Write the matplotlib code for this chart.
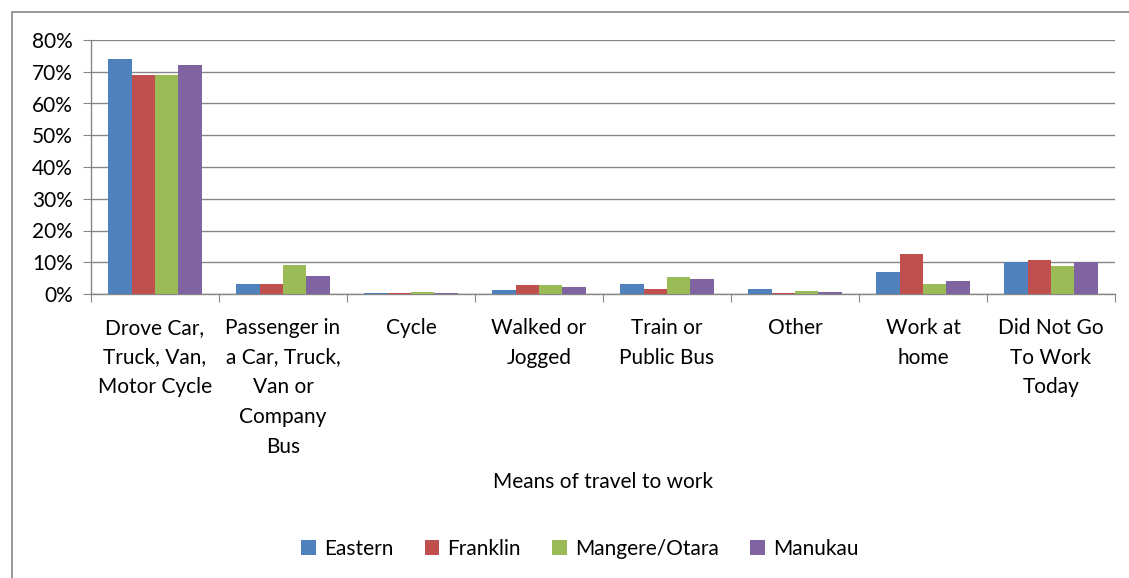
import numpy as np
import matplotlib
matplotlib.use("Agg")
import matplotlib.pyplot as plt
from matplotlib.patches import Rectangle
from matplotlib.ticker import FuncFormatter

plt.rcParams['font.family'] = ['Lato', 'DejaVu Sans']

categories = ["Drove Car,\nTruck, Van,\nMotor Cycle",
              "Passenger in\na Car, Truck,\nVan or\nCompany\nBus",
              "Cycle", "Walked or\nJogged", "Train or\nPublic Bus",
              "Other", "Work at\nhome", "Did Not Go\nTo Work\nToday"]
series = ["Eastern", "Franklin", "Mangere/Otara", "Manukau"]
eastern = [74.0, 3.0, 0.3, 1.4, 3.0, 1.5, 6.8, 10.0]
franklin = [69.0, 3.0, 0.3, 2.7, 1.5, 0.4, 12.5, 10.6]
mangere = [69.0, 9.0, 0.7, 2.7, 5.3, 1.1, 3.3, 8.7]
manukau = [72.0, 5.7, 0.4, 2.3, 4.8, 0.75, 4.2, 10.0]
colors = ["#4F81BD", "#C0504D", "#9BBB59", "#8064A2"]

fig = plt.figure(figsize=(11.29, 5.78), dpi=100)
ax = fig.add_axes([91/1129, 1 - 294/578, (1115 - 91)/1129, (294 - 40)/578])

# outer chart frame
fig.patches.append(Rectangle((12/1129, -0.05), 1.1, 1 - 12/578 + 0.05,
                             transform=fig.transFigure, fill=False,
                             edgecolor="#868686", linewidth=1.2))

x = np.arange(len(categories))
w = 0.183
for i, (vals, name) in enumerate(zip([eastern, franklin, mangere, manukau], series)):
    ax.bar(x + (i - 1.5) * w, vals, w, color=colors[i], label=name, zorder=3)

ax.set_xlim(-0.5, len(categories) - 0.5)
ax.set_ylim(0, 80)
ax.set_yticks(np.arange(0, 81, 10))
ax.yaxis.set_major_formatter(FuncFormatter(lambda v, p: f"{int(v)}%"))
ax.grid(axis='y', color="#868686", linewidth=1.0, zorder=0)
ax.set_xticks(np.arange(-0.5, len(categories)), minor=False)
ax.set_xticklabels([])
ax.set_xticks(x, minor=True)
ax.set_xticklabels(categories, minor=True, fontsize=15, linespacing=1.62,
                   va='top')
ax.tick_params(axis='x', which='minor', length=0, pad=17)
ax.tick_params(axis='x', which='major', length=6, color="#868686")
ax.tick_params(axis='y', length=6, color="#868686", labelsize=15, pad=7)
for s in ['top', 'right']:
    ax.spines[s].set_visible(False)
for s in ['left', 'bottom']:
    ax.spines[s].set_color("#868686")
    ax.spines[s].set_linewidth(1.0)

fig.text((91 + 1115) / 2 / 1129, 1 - 482 / 578, "Means of travel to work",
         ha='center', va='center', fontsize=15)

fig.legend(loc='center', bbox_to_anchor=(580/1129, 1 - 549/578), ncol=4,
           frameon=False, fontsize=15, handlelength=0.7, handleheight=0.7,
           handletextpad=0.4, columnspacing=1.5)

fig.savefig("out.png", dpi=100)
